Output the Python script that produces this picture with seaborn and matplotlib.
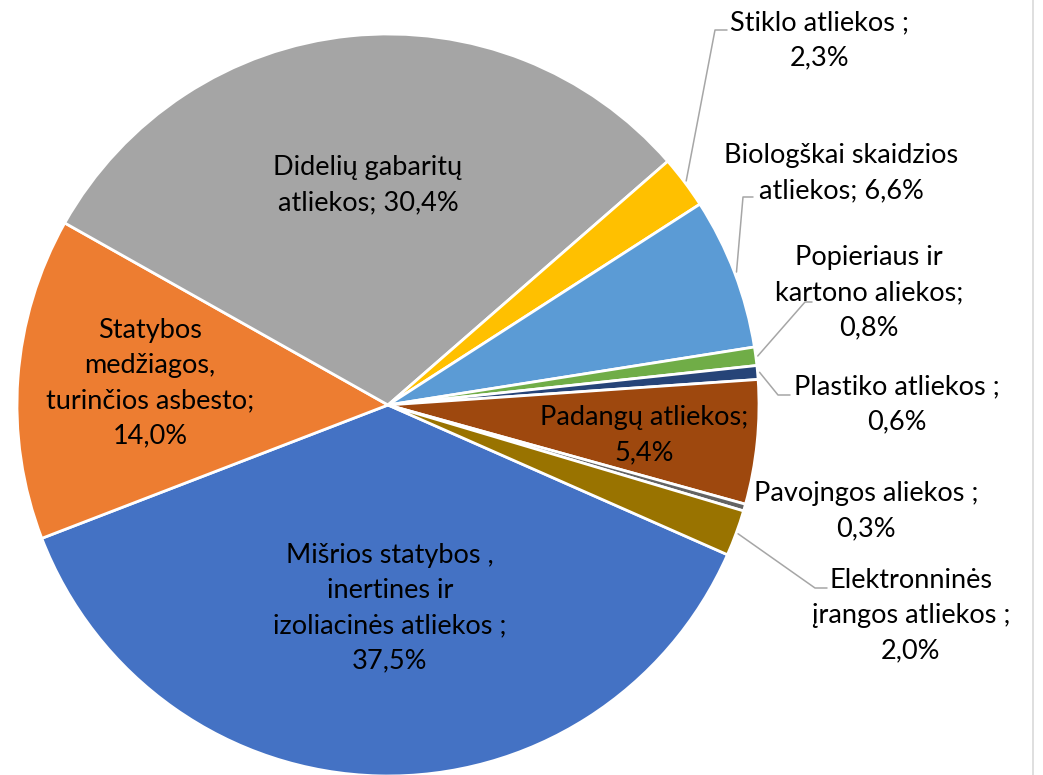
import numpy as np
import matplotlib.pyplot as plt
import seaborn as sns

# Data (percent of total waste)
labels = [
    "Mišrios statybos ,\ninertines ir\nizoliacinės atliekos ;\n{}%",
    "Statybos\nmedžiagos,\nturinčios asbesto;\n{}%",
    "Didelių gabaritų\natliekos; {}%",
    "Stiklo atliekos ;\n{}%",
    "Biologškai skaidzios\natliekos; {}%",
    "Popieriaus ir\nkartono aliekos;\n{}%",
    "Plastiko atliekos ;\n{}%",
    "Padangų atliekos;\n{}%",
    "Pavojngos aliekos ;\n{}%",
    "Elektronninės\nįrangos atliekos ;\n{}%",
]
values = [37.5, 14.0, 30.4, 2.3, 6.6, 0.8, 0.6, 5.4, 0.3, 2.0]
colors = ["#4472C4", "#ED7D31", "#A5A5A5", "#FFC000", "#5B9BD5",
          "#70AD47", "#264478", "#9E480E", "#636363", "#997300"]

W, H = 1043, 775
sns.set_theme(style="white")
plt.rcParams['font.family'] = ['Lato', 'DejaVu Sans']

fig = plt.figure(figsize=(W / 100, H / 100), dpi=100)
ax = fig.add_axes([0, 0, 1, 1])

cx, cy, R = 388, H - 405, 371
wedges, _ = ax.pie(values, colors=colors, startangle=-23.8, counterclock=False,
                   center=(cx, cy), radius=R,
                   wedgeprops=dict(edgecolor="white", linewidth=2))

ax.set_xlim(0, W)
ax.set_ylim(0, H)
ax.set_aspect('equal')
ax.axis('off')

# label centres in pixel coords (y measured from top)
label_pos = [(390, 608), (150, 383), (368, 185), (820, 40), (841, 173),
             (869, 293), (897, 404), (644, 435), (866, 511), (911, 616)]
# leader lines: elbow point and end of horizontal stub
leaders = {3: ((715, 30), 727), 4: ((743, 197), 753), 5: ((805, 302), 812),
           6: ((778, 395), 790), 9: ((815, 588), 827)}

for i, (lab, v) in enumerate(zip(labels, values)):
    pct = f"{v:.1f}".replace(".", ",")
    x, y = label_pos[i]
    ax.text(x, H - y, lab.format(pct), ha='center', va='center',
            fontsize=19.5, color='black', linespacing=1.5)
    if i in leaders:
        w = wedges[i]
        mid = np.deg2rad((w.theta1 + w.theta2) / 2)
        sx, sy = cx + (R + 2) * np.cos(mid), cy + (R + 2) * np.sin(mid)
        (ex, ey), hx = leaders[i]
        ax.plot([sx, ex, hx], [sy, H - ey, H - ey], color="#A6A6A6", lw=1.1)

# chart border on the right
ax.axvline(1033, color="#D9D9D9", lw=1.2)

fig.savefig('out.png', dpi=100)
